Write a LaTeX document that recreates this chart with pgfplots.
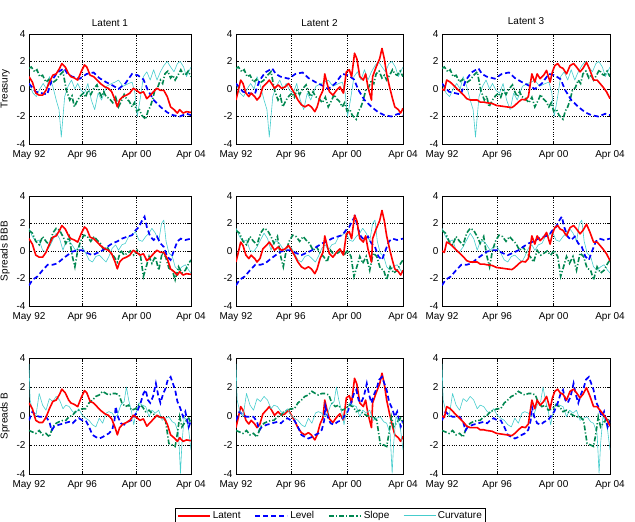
\documentclass[border=0pt]{standalone}
\usepackage{pgfplots}
\usepackage{pgfplotstable}
\pgfplotsset{compat=1.18}
\usepackage{fontspec}
\setmainfont{Liberation Sans}

\definecolor{cLat}{RGB}{255,0,0}
\definecolor{cLev}{RGB}{0,0,255}
\definecolor{cSlo}{RGB}{0,135,80}
\definecolor{cCur}{RGB}{70,205,205}

% Latent factors
\pgfplotstableread{
m y
0 0.9
3 0.5
6 -0.3
9 -0.45
12 -0.45
15 -0.1
18 0.5
21 1.0
24 1.1
27 1.5
29 1.85
32 1.6
35 1.1
37 0.9
40 0.8
43 0.65
46 1.25
49 1.75
51 1.6
54 1.0
57 0.9
60 0.65
63 0.4
67 0.15
70 0.05
73 -0.2
76 -0.8
78 -1.3
80 -0.8
83 -0.55
86 -0.45
89 -0.3
92 0.05
95 -0.1
98 -0.3
101 -0.2
104 -0.7
107 -0.45
110 -0.2
113 0.05
116 -0.1
119 -0.1
122 -0.55
125 -1.3
128 -1.5
131 -1.75
133 -1.5
136 -1.75
139 -1.65
143 -1.7
}\tLatA

\pgfplotstableread{
m y
0 -0.8
2 -0.1
4 0.65
6 0.4
8.5 -0.3
11 -0.55
13 -0.3
16 -0.55
18 -0.8
20.5 -0.55
23 0.15
26 0.4
28.5 0.65
30.5 0.4
33 0.05
36 0.3
39 0.05
42 0.15
45 0.4
47.5 0.05
50 -0.3
53 -0.8
56 -1.15
59 -1.3
62 -1.15
64.5 -1.3
67.5 -1.65
69.5 -1.3
72 -0.55
74.5 -0.1
76 1.1
78 0.4
80 -0.2
83 -0.45
86 -0.1
89 0.15
92 -0.3
94.5 1.25
97 1.4
99 0.9
101.5 2.6
103.5 2.2
106 0.9
109 0.65
111 1.1
113 0.15
116 -0.8
117 0.9
120 1.6
123 2.2
125 2.95
127 2.2
129 1.1
131.5 0.15
134 -0.7
136 -1.3
139 -1.5
141 -1.75
143 -1.4
}\tLatB

\pgfplotstableread{
m y
0 0
2 -0.1
4 0.65
7 0.5
10 0.25
13 0
15.5 -0.2
18.5 -0.45
21 -0.7
24 -0.8
27 -0.8
30 -0.8
32.5 -0.95
35.5 -0.95
38 -1.0
42.5 -1.05
46.5 -1.2
51 -1.25
55 -1.3
59.5 -1.35
62 -1.2
65 -0.95
68 -0.75
71 -0.8
73.5 -0.55
76.5 1.1
79 0.5
81 1.1
83.5 0.75
86.5 1.0
89 1.35
92 0.5
94 1.25
96 1.7
98.5 1.85
100.5 1.6
103 1.5
106 1.1
109 1.7
112 1.85
114.5 1.6
117.5 1.25
120 1.5
123 1.95
126 1.35
129 0.65
132 0.65
134.5 0.4
137 0.15
140 -0.2
143 -0.7
}\tLatC

% Treasury factors
\pgfplotstableread{
m y
0 0.4
6 -0.2
11 -0.3
16 -0.4
20 0.6
25 1.2
31 1.5
34 1.1
38 0.9
45 0.75
51 1.1
57 1.2
62 0.8
68 0.5
74 0.25
79 0
85 0.4
91 1.1
96 1.0
101 0.7
105 -0.1
110 -0.8
116 -1.3
122 -1.7
127 -1.9
133 -2.0
139 -1.8
143 -1.9
}\tLevT

\pgfplotstableread{
m y
0 1.5
2 1.6
5 1.25
7 1.4
9.5 0.9
12 1.0
15 0.5
17.5 0.7
20 0.4
24 0.65
27 1.0
30 1.25
33 -0.1
36 -0.8
38 -0.5
40 -1.3
43 -0.8
45.5 -0.5
48 -0.3
50 -0.6
52 -0.1
54.5 -0.4
57 0
60 0.3
62 -0.2
64 -0.55
66 -0.2
68 -0.55
71 -0.7
74 -1.0
76.5 -0.6
79 -1.3
82 -0.8
84 -0.4
86 -0.7
88.5 -0.9
91 -1.3
93 -1.0
95 -1.6
97.5 -1.5
99.5 -1.9
103 -2.2
105 -1.6
107 -1.3
109 -0.8
111 -0.1
113.5 0.1
116 0.65
118 0.4
120 1.1
122.5 1.3
125 0.8
127 1.0
129 0.65
131.5 1.0
134 1.4
136 1.1
138 1.0
140.5 1.3
143 0.9
}\tSloT

\pgfplotstableread{
m y
0 0.4
3.5 -0.3
6.5 -0.55
9.5 0
12.5 0.4
15.5 0
18 0.9
21 0.2
24 -0.8
26.5 -1.5
28.5 -3.5
30 -2.0
31.5 -0.55
34.5 0.2
37.5 0.65
40.5 0
43 0.4
46 -0.1
49 -0.3
52 0.4
55 -0.8
58 -1.5
61 -0.3
64 -0.8
68.5 0.2
73 0.4
76 0.5
79 0.65
83 0.2
88 0.4
91 0.5
93.5 -0.3
95.5 -2.0
98 -0.8
101 0.9
104 1.25
107 0.65
110 1.4
113 0.65
116 1.25
119 1.7
122 2.0
125 1.6
128 1.25
131 1.85
133.5 2.0
136.5 1.6
139 0.9
143 1.6
}\tCurT

% Spreads BBB factors
\pgfplotstableread{
m y
0 -2.5
3 -2.1
7.5 -1.85
12 -1.4
16.5 -1.0
21 -1.0
25 -0.9
30 -0.55
34 -0.3
38 -0.05
43 0.05
47 0.05
51.5 -0.15
56 -0.3
60 -0.15
65 0.05
69 0.3
73.5 0.55
78 0.7
82 0.9
87 1.05
91 1.15
94 1.5
97 1.75
100 2.25
102 2.5
104 1.75
107 1.05
110 0.8
113 1.05
116 0.55
119 0.3
122 -0.4
125 -0.65
128 0.05
131 0.7
134 0.9
138 0.8
143 0.9
}\tLevB

\pgfplotstableread{
m y
0 1.5
3 1.3
6 0.7
9 0.45
12 1.05
15 0.7
18 0.45
21 1.3
24 1.65
27 1.5
30 1.05
32.5 0.55
35.5 1.05
38 -0.3
40.5 -1.15
43 0.05
45.5 0.7
48.5 1.15
51.5 1.05
54.5 0.7
57.5 1.05
60 0.8
63 0.55
66 0.05
69 0.3
72 -0.15
75 -0.4
78 -0.8
81 0.05
84 -0.3
87 -0.15
89.5 0
92.5 -0.3
95.5 0.05
98.5 -0.4
101 -1.85
104 -1.0
106 -0.4
108.5 -0.9
111.5 -0.4
114.5 -1.4
117.5 -0.15
120.5 -0.4
123.5 -1.25
126.5 -1.4
129 -2.1
132 -1.15
135 -1.6
138 -1.4
141 -0.9
143 -0.65
}\tSloB

\pgfplotstableread{
m y
0 1.65
3 1.05
6 0.7
9 0.8
12 0.05
15 -0.05
18 0.3
21 0.8
24 1.3
27 0.9
30 0.05
32.5 0.7
35.5 0.7
38 0.45
41 0.05
44 0.3
47 0.3
50 -0.15
53 -0.65
56 -0.8
59 -0.4
62 -0.3
65 -0.55
68 -0.8
70.5 -0.4
73.5 0.2
76.5 0.45
79 0.05
82 0.45
85 0.55
88 1.05
91 1.15
94 1.4
97 0.8
100 0.7
103 1.05
106 1.3
108.5 1.65
111.5 1.3
114.5 0.7
117 2.0
119 2.25
121 0.7
123.5 -0.15
126.5 -0.4
129 -1.15
132 -1.4
135 -1.15
138 -1.0
141 -1.4
143 -1.6
}\tCurB

% Spreads B factors
\pgfplotstableread{
m y
0 -0.3
3 0.3
6 0.05
9 -0.05
12 -0.05
15 -0.05
18 -0.4
20 -1.0
22 -0.75
26.5 -0.6
31 -0.5
35.5 -0.4
38.5 -0.5
41 -0.3
44 -0.15
47 -0.3
50 -0.3
53 -0.75
56 -1.3
59 -1.45
62 -1.55
65 -1.45
68 -1.3
70.5 -1.2
73.5 -0.95
75.5 -0.3
76.5 0.65
78.5 -0.05
81 -0.5
84 -0.6
87 -0.4
90 -0.3
92.5 -0.05
95.5 0.3
98.5 0.9
101 1.55
103 1.8
105 1.1
107 0.9
109.5 1.35
112 2.25
114 1.45
116 0.9
118.5 1.55
120.5 1.9
122.5 2.5
125 2.7
127 2.25
129 1.8
131 1.0
133.5 0.55
136 -0.05
138 0.3
141 -0.75
143 -0.3
}\tLevBB

\pgfplotstableread{
m y
0 -1.0
3 -1.1
6 -1.2
9 -1.0
12 -1.3
15 -1.2
18 -1.45
21 -0.75
24 -0.5
26.5 -0.4
30 -0.3
32.5 -0.3
35.5 -0.05
38.5 0.05
41 0.3
44 0.4
47 0.5
50 0.5
53 0.9
56 1.1
59 1.35
62 1.45
65 1.7
68 1.55
70.5 1.45
73.5 1.55
76.5 1.55
79.5 1.45
82 0.9
85 0.65
88 0.75
90.5 0.4
94 0.5
97 0.75
100 0.65
103 0.3
106 0.4
108.5 0.2
111.5 0.05
114.5 -0.05
117.5 -0.05
120.5 -0.3
123.5 -1.9
126.5 -2.0
129 -2.1
131 -1.2
133 -0.05
135 -0.75
138 -0.4
141 -0.15
143 -0.5
}\tSloBB

\pgfplotstableread{
m y
0 3.6
1 1.1
3 0.4
6 -0.05
9 1.55
12 0.75
15 0.4
18 1.2
21 1.0
24 1.35
27 1.1
30 0.5
32.5 0.75
35.5 0.65
38.5 0.3
41 0.2
44 0.5
47 0.05
50 -0.15
53 -0.3
56 -0.6
59 -0.75
62 -0.15
65 -0.5
68 0.2
70.5 0.3
73.5 0.2
75.5 -0.05
78 0.05
81 0.75
84 1.0
86 2.0
88 1.1
90.5 0.3
92.5 -0.6
94 0.05
97 0.9
100 0.75
103 0.65
106 -0.05
108.5 0.4
111.5 0.2
114.5 0.4
117.5 -0.3
120.5 -0.15
123.5 -0.05
126.5 -0.4
129 -0.5
132 -1.2
133.7 -3.95
135 -1.9
137 -0.05
139 -0.3
141 -1.0
143 -2.35
}\tCurBB

\pgfplotsset{
  panel/.style={
    scale only axis,
    xmin=0, xmax=143, ymin=-4, ymax=4,
    xtick={0,47,95,143},
    xticklabels={May 92,Apr 96,Apr 00,Apr 04},
    ytick={-4,-2,0,2,4},
    grid=major,
    major grid style={black, dotted, line width=0.45pt},
    tick align=inside,
    major tick length=3pt,
    tick style={black, line width=0.45pt},
    axis line style={black, line width=0.6pt},
    /pgf/number format/assume math mode=true,
    tick label style={font=\fontsize{10}{12}\selectfont},
    xticklabel style={yshift=-3pt},
    label style={font=\fontsize{10}{12}\selectfont},
    title style={font=\fontsize{10}{12}\selectfont, yshift=-2.5pt},
    anchor=south west,
  },
  lat/.style={cLat, line width=1.6pt, line join=round},
  lev/.style={cLev, line width=1.7pt, dash pattern=on 5pt off 3pt},
  slo/.style={cSlo, line width=1.6pt, dash pattern=on 5pt off 2pt on 1.2pt off 2pt},
  cur/.style={cCur, line width=0.6pt, line join=round},
}

\begin{document}
\begin{tikzpicture}
\path[use as bounding box] (0,0) rectangle (635pt,522pt);

% ---------- Row 1: Treasury ----------
\begin{axis}[panel, at={(29pt,378pt)}, width=162pt, height=110pt, title={Latent 1}, ylabel={Treasury}]
\addplot[cur] table[x=m,y=y] {\tCurT};
\addplot[slo] table[x=m,y=y] {\tSloT};
\addplot[lev] table[x=m,y=y] {\tLevT};
\addplot[lat] table[x=m,y=y] {\tLatA};
\end{axis}
\begin{axis}[panel, at={(236pt,378pt)}, width=167pt, height=110pt, title={Latent 2}]
\addplot[cur] table[x=m,y=y] {\tCurT};
\addplot[slo] table[x=m,y=y] {\tSloT};
\addplot[lev] table[x=m,y=y] {\tLevT};
\addplot[lat] table[x=m,y=y] {\tLatB};
\end{axis}
\begin{axis}[panel, at={(442pt,378pt)}, width=168pt, height=110pt, title={Latent 3}, title style={yshift=2.5pt}]
\addplot[cur] table[x=m,y=y] {\tCurT};
\addplot[slo] table[x=m,y=y] {\tSloT};
\addplot[lev] table[x=m,y=y] {\tLevT};
\addplot[lat] table[x=m,y=y] {\tLatC};
\end{axis}

% ---------- Row 2: Spreads BBB ----------
\begin{axis}[panel, at={(29pt,216pt)}, width=162pt, height=110pt, ylabel={Spreads BBB}]
\addplot[cur] table[x=m,y=y] {\tCurB};
\addplot[slo] table[x=m,y=y] {\tSloB};
\addplot[lev] table[x=m,y=y] {\tLevB};
\addplot[lat] table[x=m,y=y] {\tLatA};
\end{axis}
\begin{axis}[panel, at={(236pt,216pt)}, width=167pt, height=110pt]
\addplot[cur] table[x=m,y=y] {\tCurB};
\addplot[slo] table[x=m,y=y] {\tSloB};
\addplot[lev] table[x=m,y=y] {\tLevB};
\addplot[lat] table[x=m,y=y] {\tLatB};
\end{axis}
\begin{axis}[panel, at={(442pt,216pt)}, width=168pt, height=110pt]
\addplot[cur] table[x=m,y=y] {\tCurB};
\addplot[slo] table[x=m,y=y] {\tSloB};
\addplot[lev] table[x=m,y=y] {\tLevB};
\addplot[lat] table[x=m,y=y] {\tLatC};
\end{axis}

% ---------- Row 3: Spreads B ----------
\begin{axis}[panel, at={(29pt,48pt)}, width=162pt, height=116pt, ylabel={Spreads B}]
\addplot[cur] table[x=m,y=y] {\tCurBB};
\addplot[slo] table[x=m,y=y] {\tSloBB};
\addplot[lev] table[x=m,y=y] {\tLevBB};
\addplot[lat] table[x=m,y=y] {\tLatA};
\end{axis}
\begin{axis}[panel, at={(236pt,48pt)}, width=167pt, height=116pt,
  legend columns=4,
  legend style={at={(0.566,-0.29)}, anchor=north, draw=black, line width=0.5pt,
    font=\fontsize{10}{12}\selectfont, inner sep=1.5pt,
    /tikz/every even column/.append style={column sep=12pt}},
  legend image code/.code={\draw[#1] (0pt,0pt) -- (32pt,0pt);}]
\addplot[lat] table[x=m,y=y] {\tLatB};
\addplot[lev] table[x=m,y=y] {\tLevBB};
\addplot[slo] table[x=m,y=y] {\tSloBB};
\addplot[cur] table[x=m,y=y] {\tCurBB};
\legend{Latent,Level,Slope,Curvature}
\end{axis}
\begin{axis}[panel, at={(442pt,48pt)}, width=168pt, height=116pt]
\addplot[cur] table[x=m,y=y] {\tCurBB};
\addplot[slo] table[x=m,y=y] {\tSloBB};
\addplot[lev] table[x=m,y=y] {\tLevBB};
\addplot[lat] table[x=m,y=y] {\tLatC};
\end{axis}
\end{tikzpicture}
\end{document}
